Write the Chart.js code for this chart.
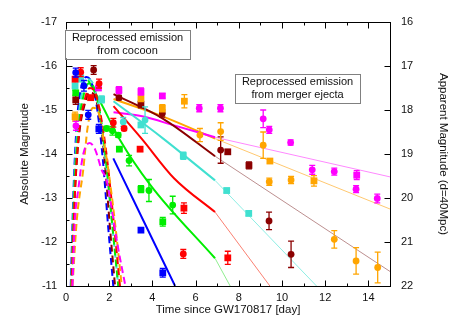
<!DOCTYPE html>
<html><head><meta charset="utf-8">
<script src="https://cdn.jsdelivr.net/npm/chart.js@4.4.0/dist/chart.umd.min.js"></script>
<style>html,body{margin:0;padding:0;background:#fff;}canvas{display:block;}</style>
</head><body>
<canvas id="c" width="463" height="327"></canvas>
<script>
// ---------- tick values ----------
const xTickLabels = [0, 2, 4, 6, 8, 10, 12, 14];
const xMinorTicks = [1, 3, 5, 7, 9, 11, 13];
const absMagTicks = [-17, -16, -15, -14, -13, -12, -11];
const absMagMinorTicks = [-16.5, -15.5, -14.5, -13.5, -12.5, -11.5];
const appMagTicks = [16, 17, 18, 19, 20, 21, 22];

// ---------- text ----------
const xTitle = 'Time since GW170817 [day]';
const yTitle = 'Absolute Magnitude';
const y2Title = 'Apparent Magnitude (d=40Mpc)';
const cocoonLabel = ['Reprocessed emission', 'from cocoon'];
const ejectaLabel = ['Reprocessed emission', 'from merger ejecta'];

// ---------- observations (day, abs mag, error) ----------
const blueCircT = [0.45, 0.83, 1.03];
const blueCircM = [-15.85, -15.55, -14.89];
const blueCircE = [0.1, 0.12, 0.1];
const blueSqT = [1.52, 3.47, 4.48];
const blueSqM = [-14.57, -12.27, -11.3];
const blueSqE = [0.1, 0.05, 0.1];

const redCircT = [0.68, 1.53, 2.19, 2.69, 5.43];
const redCircM = [-15.86, -15.6, -14.71, -14.58, -11.73];
const redCircE = [0.1, 0.1, 0.1, 0.05, 0.1];
const redSqT = [0.42, 1.14, 3.43, 5.46, 7.49];
const redSqM = [-15.7, -15.28, -14.11, -12.77, -11.64];
const redSqE = [0.05, 0.05, 0.05, 0.12, 0.15];

const greenCircT = [1.88, 2.15, 2.42, 2.92, 3.84, 4.94];
const greenCircM = [-14.58, -14.53, -14.43, -13.85, -13.17, -12.84];
const greenCircE = [0.05, 0.1, 0.05, 0.12, 0.25, 0.2];
const greenSqT = [0.45, 2.47, 3.47, 4.48];
const greenSqM = [-15.39, -14.11, -13.2, -12.46];
const greenSqE = [0.05, 0.03, 0.08, 0.1];

const cyanSqT = [0.42, 0.68, 1.65, 3.47, 5.43, 7.44, 8.46];
const cyanSqM = [-15.55, -15.72, -15.24, -14.66, -13.96, -13.17, -12.65];
const cyanSqE = [0.1, 0.08, 0.08, 0.05, 0.08, 0.05, 0.05];
const cyanCircT = [2.65, 3.66];
const cyanCircM = [-14.73, -14.77];
const cyanCircE = [0.1, 0.3];

const magentaSqT = [1.5, 2.45, 3.47, 4.46, 13.46];
const magentaSqM = [-15.5, -15.45, -15.42, -15.32, -13.52];
const magentaSqE = [0.05, 0.08, 0.08, 0.05, 0.1];
const magentaCircT = [0.46, 6.17, 7.15, 9.13, 9.41, 10.4, 11.4, 12.42, 13.43, 14.41];
const magentaCircM = [-14.64, -15.04, -15.04, -14.8, -14.55, -14.26, -13.64, -13.6, -13.2, -12.99];
const magentaCircE = [0.1, 0.08, 0.08, 0.2, 0.08, 0.06, 0.1, 0.08, 0.08, 0.1];

const orangeSqT = [0.42, 3.47, 4.46, 5.48, 9.44, 11.48];
const orangeSqM = [-14.85, -15.27, -15.04, -15.2, -13.84, -13.39];
const orangeSqE = [0.1, 0.08, 0.08, 0.15, 0.05, 0.12];
const orangeCircT = [6.2, 7.16, 9.13, 9.41, 10.42, 12.42, 13.43, 14.43];
const orangeCircM = [-14.43, -14.51, -14.2, -13.37, -13.41, -12.06, -11.57, -11.42];
const orangeCircE = [0.15, 0.2, 0.3, 0.08, 0.08, 0.2, 0.3, 0.35];

const darkredSqT = [0.45, 3.47, 7.49, 8.47];
const darkredSqM = [-15.23, -15.13, -14.05, -13.74];
const darkredSqE = [0.1, 0.08, 0.05, 0.08];
const darkredCircT = [1.28, 2.45, 4.46, 7.16, 9.4, 10.42];
const darkredCircM = [-15.91, -15.28, -14.92, -14.09, -12.48, -11.72];
const darkredCircE = [0.1, 0.05, 0.08, 0.3, 0.2, 0.3];

// ---------- cocoon models (dashed) ----------
const blueCocoonT = [0.22, 0.35, 0.5, 0.7, 0.95, 1.2, 1.45, 1.7, 1.96, 2.19];
const blueCocoonM = [-11, -13.2, -14.7, -15.5, -15.75, -15.6, -15.0, -13.9, -12.3, -11];
const cyanCocoonT = [0.24, 0.38, 0.55, 0.75, 1.0, 1.25, 1.5, 1.75, 2.0, 2.2, 2.42];
const cyanCocoonM = [-11, -13.3, -14.7, -15.4, -15.7, -15.6, -15.1, -14.2, -13.1, -12.1, -11];
const greenCocoonT = [0.25, 0.4, 0.58, 0.8, 1.05, 1.3, 1.55, 1.8, 2.16, 2.42];
const greenCocoonM = [-11, -13.3, -14.6, -15.3, -15.6, -15.5, -15.0, -14.1, -12.3, -11];
const redCocoonT = [0.26, 0.42, 0.6, 0.85, 1.1, 1.35, 1.6, 1.9, 2.24, 2.5];
const redCocoonM = [-11, -13.2, -14.5, -15.2, -15.5, -15.4, -14.9, -13.9, -12.3, -11];
const darkredCocoonT = [0.25, 0.4, 0.6, 0.85, 1.1, 1.35, 1.6, 1.8, 2.04, 2.27];
const darkredCocoonM = [-11, -13.0, -14.4, -15.1, -15.4, -15.3, -14.7, -13.8, -12.3, -11];
const orangeCocoonT = [0.3, 0.5, 0.8, 1.0, 1.25, 1.5, 1.75, 2.0, 2.3, 2.58];
const orangeCocoonM = [-11, -12.5, -13.65, -14.6, -15.05, -14.95, -14.3, -13.5, -12.3, -11];
const magentaCocoonT = [0.3, 0.4, 0.57, 0.8, 1.1, 1.35, 1.65, 1.88, 2.1, 2.4, 2.75];
const magentaCocoonM = [-11, -12.4, -13.2, -14.0, -14.25, -14.1, -13.64, -13.4, -12.8, -11.9, -11];

// ---------- merger ejecta models (solid, then thin) ----------
const blueEjectaT = [2.19, 5.05];
const blueEjectaM = [-13.9, -11];
const greenEjectaT = [1.02, 1.57, 2.5, 3.9, 6.9];
const greenEjectaM = [-15.68, -15.2, -14.32, -13.3, -11.63];
const greenLateT = [6.9, 7.6];
const greenLateM = [-11.63, -11];
const redEjectaT = [2.2, 3.5, 5.0, 6.9];
const redEjectaM = [-15.09, -14.35, -13.45, -12.68];
const redLateT = [6.9, 9.44];
const redLateM = [-12.68, -11];
const cyanEjectaT = [2.2, 4.5, 6.9];
const cyanEjectaM = [-15.2, -14.35, -13.4];
const cyanLateT = [6.9, 11.6];
const cyanLateM = [-13.4, -11];
const darkredEjectaT = [2.2, 4.5, 6.9];
const darkredEjectaM = [-15.36, -14.8, -13.95];
const darkredLateT = [6.9, 15];
const darkredLateM = [-13.95, -11.33];
const orangeEjectaT = [2.2, 4.5, 6.9];
const orangeEjectaM = [-15.25, -14.85, -14.35];
const orangeLateT = [6.9, 15];
const orangeLateM = [-14.35, -12.75];
const magentaEjectaT = [2.2, 3.58, 5.0, 6.9];
const magentaEjectaM = [-14.95, -14.85, -14.65, -14.38];
const magentaLateT = [6.9, 15];
const magentaLateM = [-14.38, -13.48];

// ---------- styling ----------
const COL = {blue:'#0000ff', red:'#ff0000', green:'#00ee00', cyan:'#40e0d0', magenta:'#ff00ff', orange:'#ffa500', darkred:'#8b0000'};
const LIGHT = {red:'#fa8072', green:'#90ee90', cyan:'#8eeee4', magenta:'#ff88ff', orange:'#ffc870', darkred:'#bc8f8f'};
const FONT = "'Liberation Sans', Arial, Helvetica, sans-serif";

function pts(T, M) { return T.map((t, i) => ({x: t, y: M[i]})); }

const datasets = [];
function obs(T, M, E, color, style) {
  datasets.push({type:'scatter', data: pts(T, M), errors: E, pointStyle: style,
    pointRadius: style === 'rect' ? 4.8 : 3.4, backgroundColor: color, borderColor: color,
    borderWidth: 0, order: 0, isObs: true});
}
function line(T, M, color, width, dash) {
  datasets.push({type:'scatter', data: pts(T, M), showLine: true, pointRadius: 0,
    borderColor: color, backgroundColor: color, borderWidth: width, borderDash: dash || [],
    cubicInterpolationMode: 'monotone', order: 2});
}

// cocoon dashed models
line(magentaCocoonT, magentaCocoonM, COL.magenta, 2, [7, 4]);
line(orangeCocoonT, orangeCocoonM, COL.orange, 2, [7, 4]);
line(redCocoonT, redCocoonM, COL.red, 2, [7, 4]);
line(greenCocoonT, greenCocoonM, COL.green, 2, [7, 4]);
line(cyanCocoonT, cyanCocoonM, COL.cyan, 2, [7, 4]);
line(darkredCocoonT, darkredCocoonM, COL.darkred, 2, [7, 4]);
line(blueCocoonT, blueCocoonM, COL.blue, 2, [7, 4]);
// late thin models
line(greenLateT, greenLateM, LIGHT.green, 1);
line(redLateT, redLateM, LIGHT.red, 1);
line(cyanLateT, cyanLateM, LIGHT.cyan, 1);
line(darkredLateT, darkredLateM, LIGHT.darkred, 1);
line(orangeLateT, orangeLateM, LIGHT.orange, 1);
line(magentaLateT, magentaLateM, LIGHT.magenta, 1);
// ejecta solid models
line(blueEjectaT, blueEjectaM, COL.blue, 2);
line(greenEjectaT, greenEjectaM, COL.green, 2);
line(redEjectaT, redEjectaM, COL.red, 2);
line(cyanEjectaT, cyanEjectaM, COL.cyan, 2);
line(darkredEjectaT, darkredEjectaM, COL.darkred, 2);
line(magentaEjectaT, magentaEjectaM, COL.magenta, 2);
line(orangeEjectaT, orangeEjectaM, COL.orange, 2);
// observations
obs(blueCircT, blueCircM, blueCircE, COL.blue, 'circle');
obs(blueSqT, blueSqM, blueSqE, COL.blue, 'rect');
obs(redCircT, redCircM, redCircE, COL.red, 'circle');
obs(redSqT, redSqM, redSqE, COL.red, 'rect');
obs(greenCircT, greenCircM, greenCircE, COL.green, 'circle');
obs(greenSqT, greenSqM, greenSqE, COL.green, 'rect');
obs(cyanSqT, cyanSqM, cyanSqE, COL.cyan, 'rect');
obs(cyanCircT, cyanCircM, cyanCircE, COL.cyan, 'circle');
obs(magentaSqT, magentaSqM, magentaSqE, COL.magenta, 'rect');
obs(magentaCircT, magentaCircM, magentaCircE, COL.magenta, 'circle');
obs(orangeSqT, orangeSqM, orangeSqE, COL.orange, 'rect');
obs(orangeCircT, orangeCircM, orangeCircE, COL.orange, 'circle');
obs(darkredSqT, darkredSqM, darkredSqE, COL.darkred, 'rect');
obs(darkredCircT, darkredCircM, darkredCircE, COL.darkred, 'circle');

// error bars drawn just before each observation dataset
const errorBars = {
  id: 'errorBars',
  beforeDatasetDraw(chart, args) {
    const ds = chart.data.datasets[args.index];
    if (!ds.isObs) return;
    const ctx = chart.ctx, ys = chart.scales.y, xs = chart.scales.x, a = chart.chartArea;
    ctx.save();
    ctx.beginPath(); ctx.rect(a.left, a.top, a.right - a.left, a.bottom - a.top); ctx.clip();
    ctx.strokeStyle = ds.borderColor; ctx.lineWidth = 1.3;
    ds.data.forEach((p, i) => {
      const e = ds.errors[i];
      const px = xs.getPixelForValue(p.x);
      const y1 = ys.getPixelForValue(p.y - e), y2 = ys.getPixelForValue(p.y + e);
      ctx.beginPath();
      ctx.moveTo(px, y1); ctx.lineTo(px, y2);
      ctx.moveTo(px - 3, y1); ctx.lineTo(px + 3, y1);
      ctx.moveTo(px - 3, y2); ctx.lineTo(px + 3, y2);
      ctx.stroke();
    });
    ctx.restore();
  }
};

// frame, inward ticks and labelled boxes
const frame = {
  id: 'frame',
  afterDatasetsDraw(chart) {
    const ctx = chart.ctx, a = chart.chartArea;
    const xs = chart.scales.x, ys = chart.scales.y, y2 = chart.scales.y2;
    ctx.save();
    ctx.strokeStyle = '#000'; ctx.lineWidth = 1;
    const L = Math.round(a.left) + 0.5, R = Math.round(a.right) + 0.5;
    const T = Math.round(a.top) + 0.5, B = Math.round(a.bottom) + 0.5;
    ctx.beginPath();
    const tick = (v, len) => { const p = Math.round(xs.getPixelForValue(v)) + 0.5;
      ctx.moveTo(p, B); ctx.lineTo(p, B - len); ctx.moveTo(p, T); ctx.lineTo(p, T + len); };
    xTickLabels.forEach(v => tick(v, 6));
    xMinorTicks.forEach(v => tick(v, 3));
    const ltick = (v, len) => { const p = Math.round(ys.getPixelForValue(v)) + 0.5;
      ctx.moveTo(L, p); ctx.lineTo(L + len, p); };
    absMagTicks.forEach(v => ltick(v, 6));
    absMagMinorTicks.forEach(v => ltick(v, 3));
    appMagTicks.forEach(v => { const p = Math.round(y2.getPixelForValue(v)) + 0.5;
      ctx.moveTo(R, p); ctx.lineTo(R - 6, p); });
    ctx.stroke();
    ctx.strokeRect(L, T, R - L, B - T);

    // annotation boxes anchored in data coordinates
    const box = (lines, tx, my) => {
      ctx.font = "11px " + FONT;
      const w = Math.max(...lines.map(s => ctx.measureText(s).width)) + 14;
      const h = 29;
      const cx = xs.getPixelForValue(tx), cy = ys.getPixelForValue(my);
      ctx.fillStyle = '#fff';
      ctx.fillRect(cx - w / 2, cy - h / 2, w, h);
      ctx.strokeStyle = '#808080';
      ctx.strokeRect(Math.round(cx - w / 2) + 0.5, Math.round(cy - h / 2) + 0.5, Math.round(w), h);
      ctx.fillStyle = '#111'; ctx.textAlign = 'center'; ctx.textBaseline = 'middle';
      ctx.fillText(lines[0], cx, cy - 6);
      ctx.fillText(lines[1], cx, cy + 6.5);
    };
    box(cocoonLabel, 2.85, -16.5);
    box(ejectaLabel, 10.72, -15.5);
    ctx.restore();
  }
};

const tickFont = {family: FONT, size: 11};
const titleFont = {family: FONT, size: 11.5};

new Chart(document.getElementById('c'), {
  type: 'scatter',
  data: {datasets},
  options: {
    responsive: false, animation: false, devicePixelRatio: 1,
    layout: {padding: {top: 22, left: 0, right: 0, bottom: 0}},
    plugins: {legend: {display: false}, tooltip: {enabled: false}},
    scales: {
      x: {type: 'linear', position: 'bottom', min: 0, max: 15,
        afterBuildTicks: s => { s.ticks = xTickLabels.map(v => ({value: v})); },
        afterFit: s => { s.height = 41; },
        grid: {display: false, drawTicks: false}, border: {display: false},
        ticks: {font: tickFont, color: '#111', padding: 5, maxRotation: 0, autoSkip: false},
        title: {display: true, text: xTitle, font: titleFont, color: '#111', padding: {top: 0, bottom: 10}}},
      y: {type: 'linear', position: 'left', min: -17, max: -11, reverse: true,
        afterBuildTicks: s => { s.ticks = absMagTicks.map(v => ({value: v})); },
        afterFit: s => { s.width = 66; },
        grid: {display: false, drawTicks: false}, border: {display: false},
        ticks: {font: tickFont, color: '#111', padding: 9},
        title: {display: true, text: yTitle, font: titleFont, color: '#111', padding: {top: 18, bottom: 0}}},
      y2: {type: 'linear', position: 'right', min: 16, max: 22, reverse: true,
        afterBuildTicks: s => { s.ticks = appMagTicks.map(v => ({value: v})); },
        afterFit: s => { s.width = 73; },
        grid: {display: false, drawTicks: false}, border: {display: false},
        ticks: {font: tickFont, color: '#111', padding: 11},
        title: {display: true, text: y2Title, font: titleFont, color: '#111', padding: {top: 13, bottom: 0}}}
    }
  },
  plugins: [errorBars, frame]
});
</script>
</body></html>
